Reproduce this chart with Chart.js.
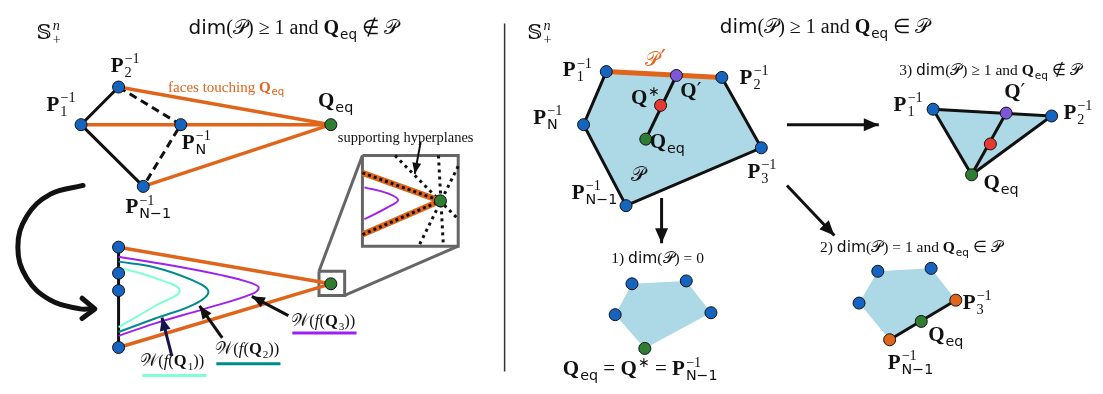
<!DOCTYPE html>
<html lang="en">
<head>
  <meta charset="UTF-8">
  <title>Polytope cases</title>
  <script src="https://cdn.jsdelivr.net/npm/chart.js"></script>
  <style>
    body { margin: 0; background: #fff; }
  </style>
</head>
<body>
  <canvas id="diagram" width="1103" height="394"></canvas>

  <script>
    // ---- left panel: polytope with Q_eq outside ----
    var upP1 = [75, 122], upP2 = [113, 83], upPN = [176, 122], upPN1 = [138, 186], upQ = [328, 122];
    var lowVerts = [[113, 249], [113, 276], [113, 294], [113, 353]];
    var lowQ = [328, 287];
    var curveQ3 = [[113, 259], [167, 268], [217, 278], [247, 286], [255, 291], [247, 298], [200, 313], [150, 328], [113, 341]];
    var curveQ2 = [[113, 264], [150, 270], [187, 283], [204, 295], [190, 308], [150, 323], [113, 337]];
    var curveQ1 = [[113, 270], [147, 280], [175, 294], [150, 310], [113, 332]];
    var boxBig = [[360, 154], [457, 154], [457, 248], [360, 248]];
    var boxSmall = [[316, 274], [342, 274], [342, 299], [316, 299]];
    var boxLinks = [[[316, 274], [360, 154]], [[342, 299], [457, 248]]];
    var boxQ = [439, 201];
    var boxFaces = [[[360, 172], [439, 201]], [[360, 236], [439, 201]]];
    var boxPlanes = [[[393, 154], [457, 220]], [[437, 154], [442, 248]], [[457, 165], [417, 248]]];
    var boxCurve = [[362, 187], [385, 193], [396, 200], [385, 208], [362, 220]];
    var turnArc = [[77, 185], [44, 194], [20, 217], [11, 249], [20, 281], [44, 304], [74, 313], [86, 313]];
    var turnHead = [[76, 302], [89, 313], [76, 323]];
    var underQ1 = [[137, 382], [202, 382]], underQ2 = [[212, 370], [277, 370]], underQ3 = [[289, 338], [354, 338]];

    // ---- right panel: Q_eq inside ----
    var mainPoly = [[607, 67], [724, 73], [764, 146], [627, 206], [584, 122]];
    var mainQp = [678, 71], mainQs = [662, 102], mainQ = [647, 137];
    var triPoly = [[938, 106], [1058, 113], [977, 174]];
    var triQp = [1012, 110], triQs = [996, 142];
    var pent1 = [[633, 287], [688, 284], [713, 317], [646, 354], [616, 319]];
    var pent2 = [[882, 274], [936, 271], [961, 304], [894, 345], [863, 307]];
    var pent2Q = [926, 326];
    var divider = [[504, 17], [504, 378]];

    // arrows: [from, to]
    var thinArrows = [[[419, 140], [413, 173]]];
    var q1Arrow = [[167, 362], [157, 322]];
    var qArrows = [[[218, 343], [195, 310]], [[285, 320], [248, 300]]];
    var bigArrows = [[[663, 198], [663, 245]], [[790, 122], [883, 122]], [[790, 185], [838, 237]]];

    var BLUE = '#1565c0', GREEN = '#2e7d32', ORANGE = '#e0651a', RED = '#e53935',
        VIOLET = '#7e57d9', LIGHT = '#add8e6', NAVY = '#14144a', GREY = '#666666';

    var datasets = [];
    function xy(p) { return { x: p[0], y: p[1] }; }
    function line(pts, color, width, extra) {
      datasets.push(Object.assign({
        data: pts.map(xy), showLine: true, pointRadius: 0, borderColor: color,
        borderWidth: width, fill: false, tension: 0
      }, extra || {}));
    }
    function area(pts, color) {
      datasets.push({
        data: pts.concat([pts[0]]).map(xy), showLine: true, pointRadius: 0, borderWidth: 0,
        borderColor: 'rgba(0,0,0,0)', backgroundColor: color, fill: 'shape', tension: 0
      });
    }
    function dots(pts, color) {
      datasets.push({
        data: pts.map(xy), showLine: false, pointRadius: 6, pointBackgroundColor: color,
        pointBorderColor: '#111', pointBorderWidth: 1
      });
    }

    // left top
    line([upP2, upP1, upPN1], '#111', 3);
    line([upP2, upPN, upPN1], '#111', 3, { borderDash: [8, 5] });
    line([upP2, upQ], ORANGE, 3.5);
    line([upP1, upQ], ORANGE, 3.5);
    line([upPN1, upQ], ORANGE, 3.5);
    dots([upP1, upP2, upPN, upPN1], BLUE);
    dots([upQ], GREEN);

    // zoom box
    line(boxBig.concat([boxBig[0]]), GREY, 3);
    line(boxSmall.concat([boxSmall[0]]), GREY, 3);
    boxLinks.forEach(function (s) { line(s, GREY, 3); });
    line(boxCurve, '#a020f0', 2, { tension: 0.4 });
    boxPlanes.forEach(function (s) { line(s, '#111', 3, { borderDash: [3, 4] }); });
    boxFaces.forEach(function (s) {
      line(s, ORANGE, 6);
      line(s, '#111', 3, { borderDash: [3, 3] });
    });
    dots([boxQ], GREEN);

    // bottom left
    line(turnArc, '#111', 5, { tension: 0.4, borderCapStyle: 'round' });
    line(turnHead, '#111', 5, { borderCapStyle: 'round', borderJoinStyle: 'round' });
    line([lowVerts[0], lowVerts[3]], '#111', 3);
    line([lowVerts[0], lowQ], ORANGE, 3.5);
    line([lowVerts[3], lowQ], ORANGE, 3.5);
    line(curveQ3, '#a020f0', 2, { tension: 0.4 });
    line(curveQ2, '#008b8b', 2, { tension: 0.4 });
    line(curveQ1, '#7fffd4', 2, { tension: 0.4 });
    dots(lowVerts, BLUE);
    dots([lowQ], GREEN);
    line(underQ1, '#7fffd4', 3);
    line(underQ2, '#008b8b', 3);
    line(underQ3, '#a020f0', 3);
    thinArrows.forEach(function (s) { line(s, '#111', 2); });
    line(q1Arrow, NAVY, 3);
    qArrows.forEach(function (s) { line(s, '#111', 3); });

    line(divider, '#333', 1.5);

    // right main polytope
    area(mainPoly, LIGHT);
    line([mainPoly[1], mainPoly[2], mainPoly[3], mainPoly[4], mainPoly[0]], '#111', 3);
    line([mainPoly[0], mainPoly[1]], ORANGE, 5);
    line([mainQ, mainQp], '#111', 3);
    dots(mainPoly, BLUE);
    dots([mainQp], VIOLET);
    dots([mainQs], RED);
    dots([mainQ], GREEN);

    bigArrows.forEach(function (s) { line(s, '#111', 3); });

    // case 3
    area(triPoly, LIGHT);
    line(triPoly.concat([triPoly[0]]), '#111', 3);
    line([triPoly[2], triQp], '#111', 3);
    dots([triPoly[0], triPoly[1]], BLUE);
    dots([triQp], VIOLET);
    dots([triQs], RED);
    dots([triPoly[2]], GREEN);

    // case 1
    area(pent1, LIGHT);
    dots([pent1[0], pent1[1], pent1[2], pent1[4]], BLUE);
    dots([pent1[3]], GREEN);

    // case 2
    area(pent2, LIGHT);
    line([pent2[2], pent2[3]], '#111', 3);
    dots([pent2[0], pent2[1], pent2[4]], BLUE);
    dots([pent2[2], pent2[3]], ORANGE);
    dots([pent2Q], GREEN);

    // later datasets drawn on top
    datasets.forEach(function (d, i) { d.order = -i; });

    // ---- text ----
    var FAM = {
      R: '"Liberation Serif", serif', B: '"Liberation Serif", serif', I: '"Liberation Serif", serif',
      S: '"DejaVu Sans", sans-serif', D: '"DejaVu Serif", serif', C: '"DejaVu Serif", serif'
    };
    function fontOf(f, px) {
      return (f === 'I' ? 'italic ' : '') + (f === 'B' ? 'bold ' : '') + px.toFixed(1) + 'px ' + FAM[f];
    }
    function R(t) { return { t: t, f: 'R' }; }
    function B(t) { return { t: t, f: 'B' }; }
    function S(t) { return { t: t, f: 'S' }; }
    function I(t) { return { t: t, f: 'I' }; }
    function D(t) { return { t: t, f: 'D' }; }
    function C(t) { return { t: t, f: 'C' }; }
    function sub(a) { return { up: [], dn: [a] }; }
    function sup(a) { return { up: [a], dn: [] }; }
    function Pinv(d) { return [B('P'), { up: [R('−1')], dn: [d] }]; }
    var QEQ = [B('Q'), sub(S('eq'))];
    var CAL = C('𝒫');

    var labels = [
      { x: 30, y: 33, s: 21, t: [D('𝕊'), { up: [I('n')], dn: [R('+')] }] },
      { x: 290, y: 28, s: 20, a: 'center', t: [S('dim'), R('('), CAL, R(')'), R(' ≥ 1 and ')].concat(QEQ, [R(' ∉ '), CAL]) },
      { x: 105, y: 67, s: 21, t: Pinv(R('2')) },
      { x: 40, y: 108, s: 21, t: Pinv(R('1')) },
      { x: 177, y: 147, s: 21, t: Pinv(S('N')) },
      { x: 120, y: 214, s: 21, t: Pinv(S('N−1')) },
      { x: 315, y: 104, s: 21, t: QEQ },
      { x: 222, y: 88, s: 15, a: 'center', c: ORANGE, t: [R('faces touching '), B('Q'), sub(S('eq'))] },
      { x: 335, y: 140, s: 14.5, t: [R('supporting hyperplanes')] },
      { x: 135, y: 372, s: 16.5, t: [C('𝒲'), R('('), I('f'), R('('), B('Q'), sub(R('1')), R('))')] },
      { x: 211, y: 360, s: 16.5, t: [C('𝒲'), R('('), I('f'), R('('), B('Q'), sub(R('2')), R('))')] },
      { x: 288, y: 331, s: 16.5, t: [C('𝒲'), R('('), I('f'), R('('), B('Q'), sub(R('3')), R('))')] },

      { x: 527, y: 33, s: 21, t: [D('𝕊'), { up: [I('n')], dn: [R('+')] }] },
      { x: 828, y: 27, s: 20, a: 'center', t: [S('dim'), R('('), CAL, R(')'), R(' ≥ 1 and ')].concat(QEQ, [R(' ∈ '), CAL]) },
      { x: 563, y: 72, s: 21, t: Pinv(R('1')) },
      { x: 646, y: 61, s: 20, c: ORANGE, t: [CAL] },
      { x: 662, y: 62, s: 24, c: ORANGE, t: [D('′')] },
      { x: 742, y: 80, s: 21, t: Pinv(R('2')) },
      { x: 682, y: 93, s: 21, t: [B('Q'), D('′')] },
      { x: 632, y: 101, s: 21, t: [B('Q'), sup(R('∗'))] },
      { x: 533, y: 121, s: 21, t: Pinv(S('N')) },
      { x: 651, y: 146, s: 21, t: QEQ },
      { x: 632, y: 180, s: 20, t: [CAL] },
      { x: 750, y: 177, s: 21, t: Pinv(R('3')) },
      { x: 572, y: 199, s: 21, t: Pinv(S('N−1')) },

      { x: 996, y: 71, s: 15.5, a: 'center', t: [R('3) '), S('dim'), R('('), CAL, R(') ≥ 1 and ')].concat(QEQ, [R(' ∉ '), CAL]) },
      { x: 898, y: 108, s: 21, t: Pinv(R('1')) },
      { x: 1010, y: 94, s: 21, t: [B('Q'), D('′')] },
      { x: 1070, y: 116, s: 21, t: Pinv(R('2')) },
      { x: 989, y: 189, s: 21, t: QEQ },

      { x: 659, y: 265, s: 15.5, a: 'center', t: [R('1) '), S('dim'), R('('), CAL, R(') = 0')] },
      { x: 563, y: 382, s: 21, t: QEQ.concat([R(' = '), B('Q'), sup(R('∗')), R(' = ')], Pinv(S('N−1'))) },

      { x: 916, y: 254, s: 15.5, a: 'center', t: [R('2) '), S('dim'), R('('), CAL, R(') = 1 and ')].concat(QEQ, [R(' ∈ '), CAL]) },
      { x: 968, y: 313, s: 21, t: Pinv(R('3')) },
      { x: 933, y: 346, s: 21, t: QEQ },
      { x: 892, y: 375, s: 21, t: Pinv(S('N−1')) }
    ];

    function tokW(ctx, tk, sz) {
      if (tk.t !== undefined) { ctx.font = fontOf(tk.f, sz); return ctx.measureText(tk.t).width; }
      return Math.max(listW(ctx, tk.up, sz * 0.68), listW(ctx, tk.dn, sz * 0.68)) + 1;
    }
    function listW(ctx, l, sz) { return l.reduce(function (s, tk) { return s + tokW(ctx, tk, sz); }, 0); }
    function drawList(ctx, l, x, y, sz) {
      l.forEach(function (tk) {
        if (tk.t !== undefined) {
          ctx.font = fontOf(tk.f, sz);
          ctx.fillText(tk.t, x, y);
          x += ctx.measureText(tk.t).width;
        } else {
          drawList(ctx, tk.up, x + 1, y - 0.42 * sz, sz * 0.68);
          drawList(ctx, tk.dn, x + 1, y + 0.24 * sz, sz * 0.68);
          x += tokW(ctx, tk, sz);
        }
      });
      return x;
    }

    var annotate = {
      id: 'annotate',
      afterDatasetsDraw: function (chart) {
        var c = chart.ctx, sx = chart.scales.x, sy = chart.scales.y;
        function head(seg, color, len, half) {
          var x0 = sx.getPixelForValue(seg[0][0]), y0 = sy.getPixelForValue(seg[0][1]);
          var x1 = sx.getPixelForValue(seg[1][0]), y1 = sy.getPixelForValue(seg[1][1]);
          var a = Math.atan2(y1 - y0, x1 - x0);
          c.save();
          c.fillStyle = color;
          c.beginPath();
          c.moveTo(x1, y1);
          c.lineTo(x1 - len * Math.cos(a) + half * Math.sin(a), y1 - len * Math.sin(a) - half * Math.cos(a));
          c.lineTo(x1 - len * Math.cos(a) - half * Math.sin(a), y1 - len * Math.sin(a) + half * Math.cos(a));
          c.closePath();
          c.fill();
          c.restore();
        }
        thinArrows.forEach(function (s) { head(s, '#111', 11, 4.5); });
        head(q1Arrow, NAVY, 13, 5.5);
        qArrows.forEach(function (s) { head(s, '#111', 13, 5.5); });
        bigArrows.forEach(function (s) { head(s, '#111', 15, 6.5); });
      },
      afterDraw: function (chart) {
        var c = chart.ctx, sx = chart.scales.x, sy = chart.scales.y;
        c.save();
        c.textBaseline = 'alphabetic';
        labels.forEach(function (lb) {
          var x = sx.getPixelForValue(lb.x), y = sy.getPixelForValue(lb.y);
          if (lb.a === 'center') x -= listW(c, lb.t, lb.s) / 2;
          c.fillStyle = lb.c || '#111';
          drawList(c, lb.t, x, y, lb.s);
        });
        c.restore();
      }
    };

    new Chart(document.getElementById('diagram').getContext('2d'), {
      type: 'scatter',
      data: { datasets: datasets },
      options: {
        responsive: false,
        animation: false,
        layout: { padding: 0 },
        scales: {
          x: { type: 'linear', min: 0, max: 1103, display: false },
          y: { type: 'linear', min: 0, max: 394, reverse: true, display: false }
        },
        plugins: { legend: { display: false }, tooltip: { enabled: false } },
        events: []
      },
      plugins: [annotate]
    });
  </script>
</body>
</html>
